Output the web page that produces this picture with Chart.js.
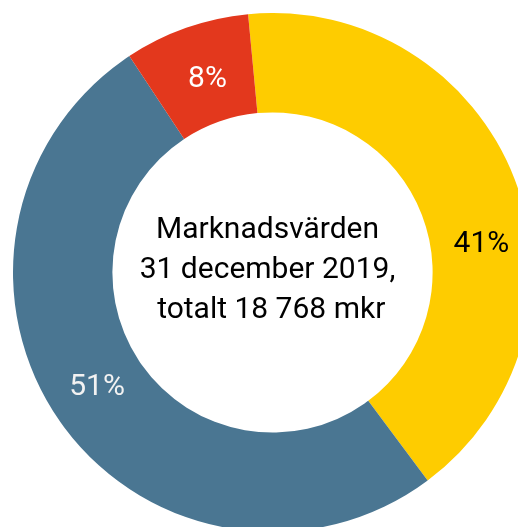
<!DOCTYPE html>
<html>
<head>
<meta charset="utf-8">
<script src="https://cdn.jsdelivr.net/npm/chart.js@4/dist/chart.umd.min.js"></script>
<style>
html,body{margin:0;padding:0;background:#fff;overflow:hidden;width:518px;height:527px;}
#wrap{position:absolute;left:13px;top:13px;width:519px;height:519px;}
canvas{display:block;}
</style>
</head>
<body>
<div id="wrap"><canvas id="c" width="519" height="519"></canvas></div>
<script>
const categories = ["Gul", "Blå", "Röd"];
const values = [41.3, 50.9, 7.8];
const valueLabels = ["41%", "51%", "8%"];
const centerLines = ["Marknadsvärden", "31 december 2019,", " totalt 18 768 mkr"];
const colors = ["#FECC00", "#4A7692", "#E3381D"];
const labelColors = ["#000000", "#F2F2F2", "#FFFFFF"];

const FONT = "Roboto, 'Noto Sans', sans-serif";

const labelPlugin = {
  id: "labels",
  afterDatasetsDraw(chart, args, opts) {
    const ctx = chart.ctx;
    const meta = chart.getDatasetMeta(0);
    ctx.save();
    ctx.textAlign = "center";
    ctx.textBaseline = "middle";
    ctx.font = "30px " + FONT;
    meta.data.forEach((arc, i) => {
      const p = arc.getProps(["x","y","startAngle","endAngle","innerRadius","outerRadius"], true);
      const f = opts.fractions[i];
      const a = p.startAngle + f * (p.endAngle - p.startAngle);
      const r = (p.innerRadius + p.outerRadius) / 2 + opts.radialShift[i];
      ctx.fillStyle = labelColors[i];
      ctx.fillText(valueLabels[i], p.x + r * Math.cos(a), p.y + r * Math.sin(a));
    });
    // center text
    const cx = meta.data[0].x + opts.centerDx;
    const cy = meta.data[0].y;
    ctx.fillStyle = "#000";
    ctx.font = "30px " + FONT;
    ctx.textBaseline = "alphabetic";
    const lh = 40;
    centerLines.forEach((t, i) => {
      ctx.fillText(t, cx, cy - 35 + i * lh);
    });
    ctx.restore();
  }
};

new Chart(document.getElementById("c"), {
  type: "doughnut",
  data: {
    labels: categories,
    datasets: [{
      data: values,
      backgroundColor: colors,
      borderWidth: 0,
      hoverOffset: 0
    }]
  },
  options: {
    responsive: false,
    animation: false,
    rotation: -5.4,
    cutout: "61.7%",
    layout: { padding: 0 },
    events: [],
    plugins: {
      legend: { display: false },
      tooltip: { enabled: false },
      labels: { fractions: [0.59, 0.51, 0.53], radialShift: [1, 0, -6], centerDx: -5 }
    }
  },
  plugins: [labelPlugin]
});
</script>
</body>
</html>
